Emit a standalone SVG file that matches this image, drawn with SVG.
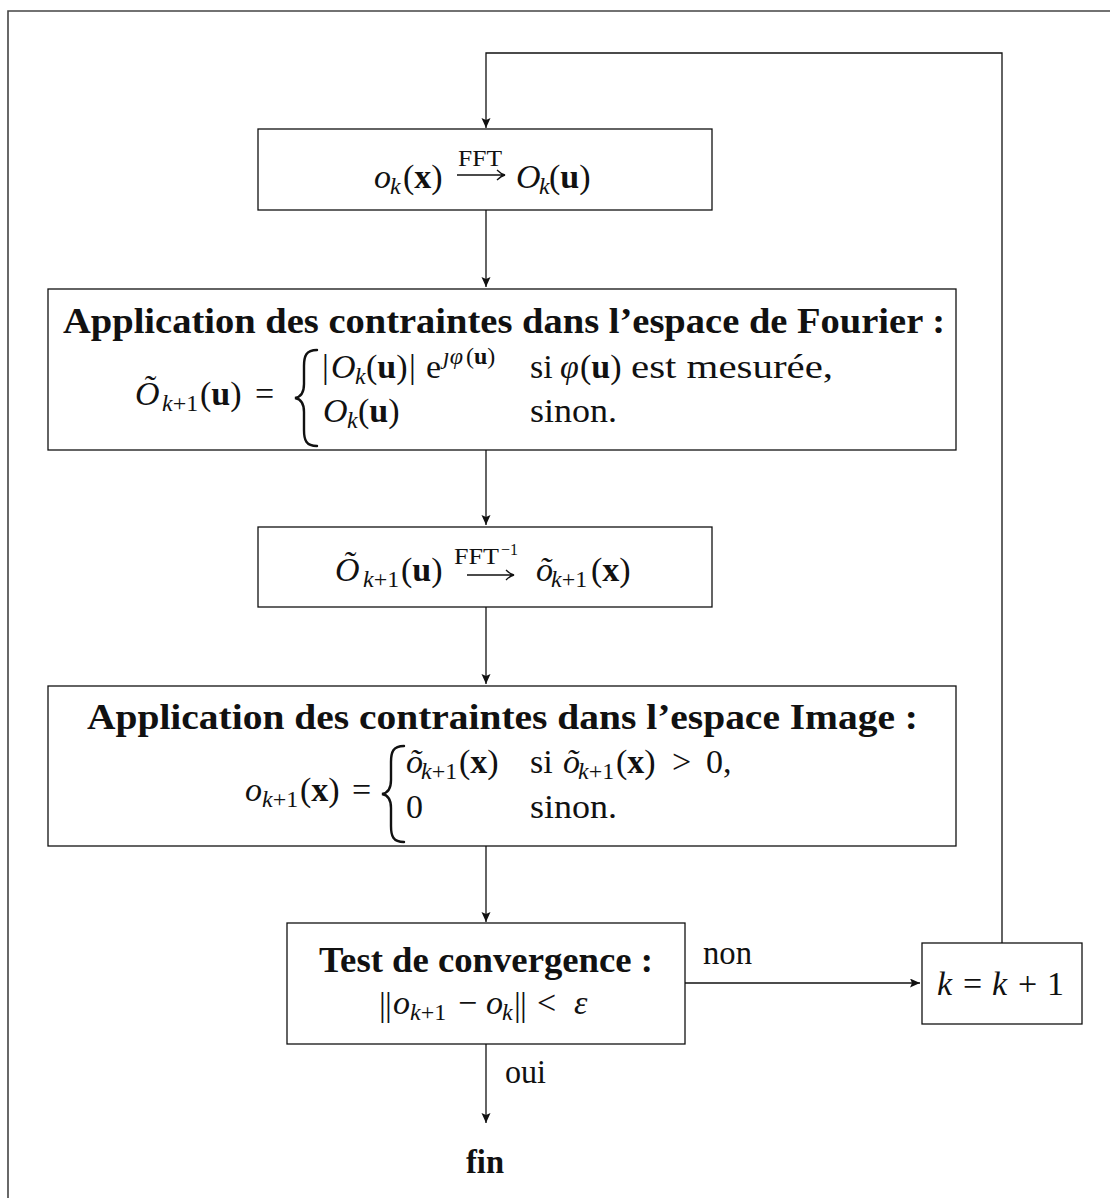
<svg xmlns="http://www.w3.org/2000/svg" width="1110" height="1198" viewBox="0 0 1110 1198">
  <style>
    .frame { fill: none; stroke: #444; stroke-width: 1.6; }
    .box { fill: #fff; stroke: #111; stroke-width: 1.3; }
    .wire { fill: none; stroke: #111; stroke-width: 1.3; }
    .brace { fill: none; stroke: #111; stroke-width: 2.4; stroke-linecap: round; }
    text { font-family: "Liberation Serif", "DejaVu Serif", serif; font-size: 34px; fill: #111; }
    .i { font-style: italic; }
    .bf { font-weight: bold; }
    .s { font-size: 24px; }
    .ss { font-size: 23px; }
    .sss { font-size: 16px; }
    .ttl { font-weight: bold; font-size: 35px; }
  </style>
  <defs>
    <marker id="head" markerUnits="userSpaceOnUse" markerWidth="12" markerHeight="10" refX="10" refY="4.5" orient="auto">
      <path d="M0,0 L10,4.5 L0,9 L2,4.5 Z" fill="#111"/>
    </marker>
  </defs>

  <!-- outer frame -->
  <path class="frame" d="M8,1198 V11 H1110"/>

  <!-- connectors -->
  <g id="connectors">
    <path class="wire" d="M1002,943 V53 H486 V128" marker-end="url(#head)"/>
    <path class="wire" d="M486,210 V287" marker-end="url(#head)"/>
    <path class="wire" d="M486,450 V525" marker-end="url(#head)"/>
    <path class="wire" d="M486,607 V684" marker-end="url(#head)"/>
    <path class="wire" d="M486,846 V922" marker-end="url(#head)"/>
    <path class="wire" d="M685,983 H920" marker-end="url(#head)"/>
    <path class="wire" d="M486,1044 V1123" marker-end="url(#head)"/>
    <text x="703" y="964" textLength="49" lengthAdjust="spacingAndGlyphs">non</text>
    <text x="505" y="1083" textLength="41" lengthAdjust="spacingAndGlyphs">oui</text>
  </g>

  <!-- forward FFT -->
  <g id="fft">
    <rect class="box" x="258" y="129" width="454" height="81"/>
    <text class="i" x="374" y="188">o</text>
    <text class="i s" x="390" y="194">k</text>
    <text x="403" y="188">(<tspan class="bf">x</tspan>)</text>
    <text class="ss" x="458" y="166" textLength="44" lengthAdjust="spacingAndGlyphs">FFT</text>
    <path class="wire" d="M457,175 H504 M497,170 Q501,174 505,175 Q501,176 497,180"/>
    <text class="i" x="516" y="188">O</text>
    <text class="i s" x="539" y="194">k</text>
    <text x="549" y="188">(<tspan class="bf">u</tspan>)</text>
  </g>

  <!-- Fourier-space constraints -->
  <g id="fourier">
    <rect class="box" x="48" y="289" width="908" height="161"/>
    <text class="ttl" x="63" y="333" textLength="882" lengthAdjust="spacingAndGlyphs">Application des contraintes dans l’espace de Fourier :</text>
    <text class="i" x="135" y="405">Õ</text>
    <text class="s" x="162" y="411"><tspan class="i">k</tspan>+1</text>
    <text x="200" y="405">(<tspan class="bf">u</tspan>)</text>
    <text x="255" y="405">=</text>
    <path class="brace" d="M317,350 C306,350 304,356 304,366 V384 C304,393 301,397 295,398 C301,399 304,403 304,412 V430 C304,440 306,446 317,446"/>
    <text x="322" y="378">|</text>
    <text class="i" x="331" y="378">O</text>
    <text class="i s" x="355" y="384">k</text>
    <text x="366" y="378">(<tspan class="bf">u</tspan>)</text>
    <text x="409" y="378">|</text>
    <text x="426" y="378">e</text>
    <text class="s i" x="443" y="364">ȷφ</text>
    <text class="s" x="466" y="364">(<tspan class="bf">u</tspan>)</text>
    <text x="530" y="378">si</text>
    <text class="i" x="560" y="378">φ</text>
    <text x="580" y="378">(<tspan class="bf">u</tspan>)</text>
    <text x="631" y="378" textLength="202" lengthAdjust="spacingAndGlyphs">est mesurée,</text>
    <text class="i" x="323" y="422">O</text>
    <text class="i s" x="347" y="428">k</text>
    <text x="358" y="422">(<tspan class="bf">u</tspan>)</text>
    <text x="530" y="422" textLength="87" lengthAdjust="spacingAndGlyphs">sinon.</text>
  </g>

  <!-- inverse FFT -->
  <g id="ifft">
    <rect class="box" x="258" y="527" width="454" height="80"/>
    <text class="i" x="335" y="581">Õ</text>
    <text class="s" x="363" y="587"><tspan class="i">k</tspan>+1</text>
    <text x="401" y="581">(<tspan class="bf">u</tspan>)</text>
    <text class="ss" x="454" y="564" textLength="45" lengthAdjust="spacingAndGlyphs">FFT</text>
    <text class="sss" x="501" y="555">−1</text>
    <path class="wire" d="M467,575 H513 M506,570 Q510,574 514,575 Q510,576 506,580"/>
    <text class="i" x="536" y="581">õ</text>
    <text class="s" x="551" y="587"><tspan class="i">k</tspan>+1</text>
    <text x="591" y="581">(<tspan class="bf">x</tspan>)</text>
  </g>

  <!-- image-space constraints -->
  <g id="image">
    <rect class="box" x="48" y="686" width="908" height="160"/>
    <text class="ttl" x="87" y="729" textLength="831" lengthAdjust="spacingAndGlyphs">Application des contraintes dans l’espace Image :</text>
    <text class="i" x="245" y="801">o</text>
    <text class="s" x="262" y="807"><tspan class="i">k</tspan>+1</text>
    <text x="300" y="801">(<tspan class="bf">x</tspan>)</text>
    <text x="352" y="801">=</text>
    <path class="brace" d="M404,746 C393,746 391,752 391,762 V780 C391,789 388,793 382,794 C388,795 391,799 391,808 V826 C391,836 393,842 404,842"/>
    <text class="i" x="406" y="773">õ</text>
    <text class="s" x="421" y="779"><tspan class="i">k</tspan>+1</text>
    <text x="459" y="773">(<tspan class="bf">x</tspan>)</text>
    <text x="530" y="773">si</text>
    <text class="i" x="563" y="773">õ</text>
    <text class="s" x="578" y="779"><tspan class="i">k</tspan>+1</text>
    <text x="616" y="773">(<tspan class="bf">x</tspan>)</text>
    <text x="672" y="773">&gt;</text>
    <text x="706" y="773">0,</text>
    <text x="406" y="818">0</text>
    <text x="530" y="818" textLength="87" lengthAdjust="spacingAndGlyphs">sinon.</text>
  </g>

  <!-- convergence test -->
  <g id="test">
    <rect class="box" x="287" y="923" width="398" height="121"/>
    <text class="ttl" x="319" y="972" textLength="334" lengthAdjust="spacingAndGlyphs">Test de convergence :</text>
    <text x="379" y="1016">|</text>
    <text x="385" y="1016">|</text>
    <text class="i" x="393" y="1014">o</text>
    <text class="s" x="410" y="1020"><tspan class="i">k</tspan>+1</text>
    <text x="458" y="1014">−</text>
    <text class="i" x="486" y="1014">o</text>
    <text class="i s" x="502" y="1020">k</text>
    <text x="514" y="1016">|</text>
    <text x="520" y="1016">|</text>
    <text x="537" y="1014">&lt;</text>
    <text class="i" x="574" y="1014">ε</text>
  </g>

  <!-- iteration counter -->
  <g id="increment">
    <rect class="box" x="922" y="943" width="160" height="81"/>
    <text class="i" x="937" y="995">k</text>
    <text x="963" y="995">=</text>
    <text class="i" x="992" y="995">k</text>
    <text x="1018" y="995">+</text>
    <text x="1047" y="995">1</text>
  </g>

  <!-- end -->
  <g id="end">
    <text class="bf" x="466" y="1173" textLength="38" lengthAdjust="spacingAndGlyphs">fin</text>
  </g>
</svg>
